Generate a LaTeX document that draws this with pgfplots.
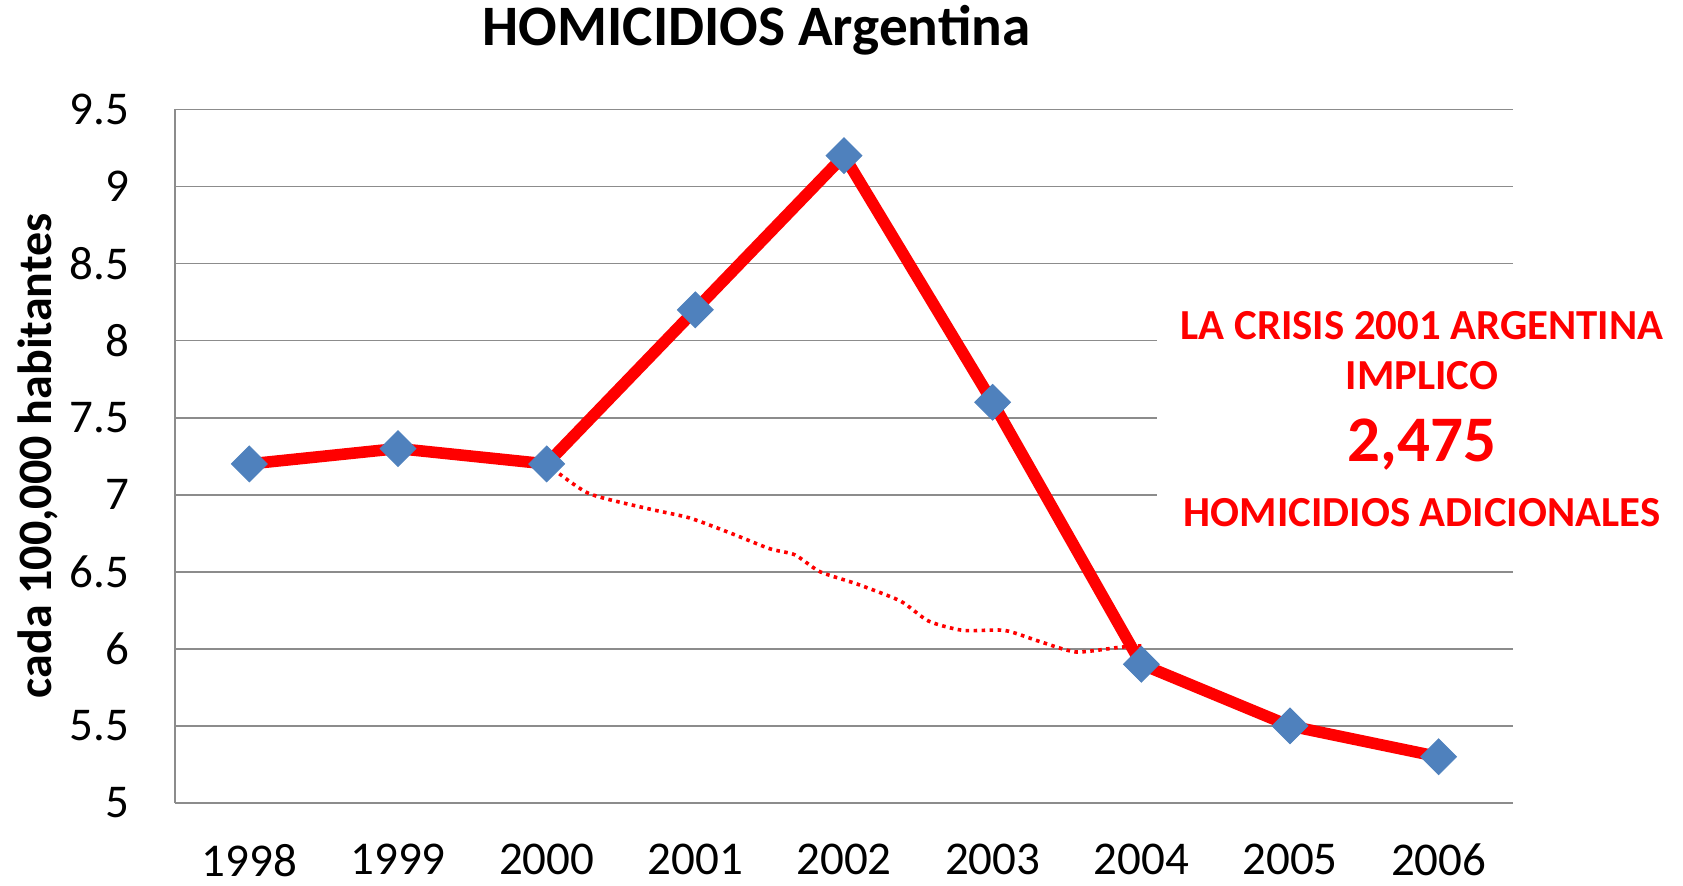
\documentclass[border=0pt]{standalone}
\usepackage{pgfplots}
\pgfplotsset{compat=1.18}
\usepackage{fontspec}
\setmainfont{Carlito}
\definecolor{mkblue}{HTML}{4F81BD}
\definecolor{gridgray}{HTML}{8C8C8C}
\begin{document}
\begin{tikzpicture}
\path[use as bounding box] (-87.5pt,-41.5pt) rectangle (754pt,401.5pt);
\begin{axis}[
  at={(0,0)}, anchor=south west,
  scale only axis, width=669pt, height=346.75pt,
  xmin=-0.5, xmax=8.5, ymin=5, ymax=9.5,
  xtick={0,...,8},
  xticklabels={1998,1999,2000,2001,2002,2003,2004,2005,2006},
  ytick={5,5.5,6,6.5,7,7.5,8,8.5,9,9.5},
  yticklabels={5,5.5,6,6.5,7,7.5,8,8.5,9,9.5},
  axis x line=bottom, axis y line=left,
  axis line style={-, gridgray, line width=0.8pt},
  ymajorgrids, grid style={gridgray, line width=0.8pt},
  major tick length=0pt,
  tick label style={font=\fontsize{23.5}{26}\selectfont},
  yticklabel style={xshift=-19.4pt},
  xticklabel style={yshift=-17pt},
  clip=false,
]
\addplot[red, line width=5.8pt, mark=square*, mark size=6.3pt,
  mark options={fill=mkblue, draw=mkblue, line width=0.5pt, rotate=45}]
coordinates {(0,7.2) (1,7.3) (2,7.2) (3,8.2) (4,9.2) (5,7.6) (6,5.9) (7,5.5) (8,5.3)};
\addplot[red, line width=1.8pt, dash pattern=on 1.8pt off 2.2pt, smooth, tension=0.4]
coordinates {(2.0,7.2) (2.28,7.01) (2.68,6.91) (2.96,6.85) (3.24,6.75) (3.5,6.65) (3.67,6.61) (3.84,6.50) (4.09,6.42) (4.38,6.31) (4.57,6.18) (4.8,6.12) (5.08,6.12) (5.31,6.05) (5.56,5.98) (5.85,6.01) (6.0,6.02)};
\end{axis}
\fill[white] (491pt,133pt) rectangle (670pt,254pt);
\node[font=\fontsize{28.6}{32}\selectfont\bfseries] at (290.8pt,386.5pt) {HOMICIDIOS Argentina};
\node[rotate=90, font=\fontsize{24}{27}\selectfont\bfseries] at (-68.7pt,173.5pt) {cada 100,000 habitantes};
\node[red, font=\fontsize{21.4}{24}\selectfont\bfseries] at (623.5pt,238.9pt) {LA CRISIS 2001 ARGENTINA};
\node[red, font=\fontsize{21.4}{24}\selectfont\bfseries] at (623.5pt,213.7pt) {IMPLICO};
\node[red, font=\fontsize{32.5}{36}\selectfont\bfseries] at (623.5pt,179pt) {2,475};
\node[red, font=\fontsize{21.4}{24}\selectfont\bfseries] at (623.5pt,145pt) {HOMICIDIOS ADICIONALES};
\end{tikzpicture}
\end{document}
